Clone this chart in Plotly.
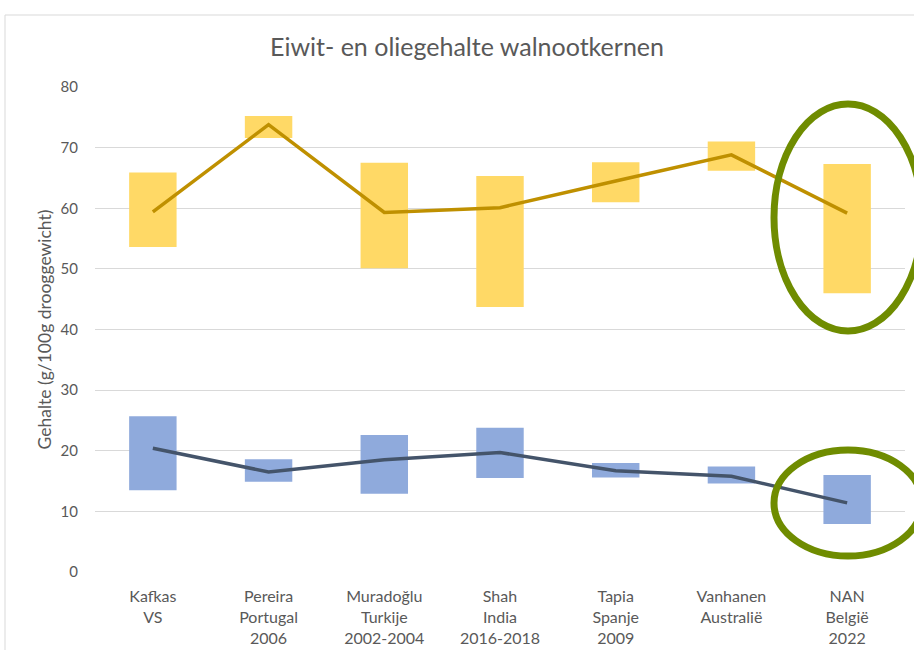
import plotly.graph_objects as go

categories = ["Kafkas<br>VS", "Pereira<br>Portugal<br>2006", "Muradoğlu<br>Turkije<br>2002-2004",
              "Shah<br>India<br>2016-2018", "Tapia<br>Spanje<br>2009", "Vanhanen<br>Australië",
              "NAN<br>België<br>2022"]

olie_min = [53.6, 71.6, 50.1, 43.7, 61.0, 66.2, 46.0]
olie_max = [65.9, 75.2, 67.5, 65.3, 67.6, 71.0, 67.3]
olie_gem = [59.4, 73.8, 59.3, 60.1, 64.5, 68.8, 59.2]

eiwit_min = [13.5, 14.9, 12.9, 15.5, 15.6, 14.6, 7.9]
eiwit_max = [25.7, 18.6, 22.6, 23.8, 18.0, 17.4, 16.0]
eiwit_gem = [20.4, 16.5, 18.5, 19.7, 16.7, 15.8, 11.4]

W, H = 914, 650
ML, MR, MT, MB = 95, 9, 87, 78
PW, PH = W - ML - MR, H - MT - MB
YMAX = 80

def px_x(p):
    return (p - ML) / PW

def px_y(p):
    return (H - MB - p) / PH * YMAX

fig = go.Figure()
fig.add_trace(go.Bar(x=categories, y=[b - a for a, b in zip(olie_min, olie_max)], base=olie_min,
                     width=0.41, marker=dict(color="#FFD966", line=dict(width=0)), name="Olie"))
fig.add_trace(go.Bar(x=categories, y=[b - a for a, b in zip(eiwit_min, eiwit_max)], base=eiwit_min,
                     width=0.41, marker=dict(color="#8FAADC", line=dict(width=0)), name="Eiwit"))
fig.add_trace(go.Scatter(x=categories, y=olie_gem, mode="lines",
                         line=dict(color="#BF9000", width=3.5), name="Olie gemiddeld"))
fig.add_trace(go.Scatter(x=categories, y=eiwit_gem, mode="lines",
                         line=dict(color="#44546A", width=3.5), name="Eiwit gemiddeld"))

shapes = [
    dict(type="rect", xref="paper", yref="paper", x0=px_x(5), x1=px_x(1000),
         y0=px_y(15) / YMAX, y1=px_y(700) / YMAX, line=dict(color="#D9D9D9", width=1), layer="below"),
    dict(type="circle", xref="paper", yref="y", x0=px_x(774), x1=px_x(922),
         y0=px_y(331), y1=px_y(104), line=dict(color="#6F8C00", width=7)),
    dict(type="circle", xref="paper", yref="y", x0=px_x(774), x1=px_x(922),
         y0=px_y(556), y1=px_y(450), line=dict(color="#6F8C00", width=7)),
]

fig.update_layout(
    width=W, height=H, margin=dict(l=ML, r=MR, t=MT, b=MB, autoexpand=False),
    paper_bgcolor="white", plot_bgcolor="white",
    barmode="overlay", showlegend=False,
    font=dict(family="Lato", color="#595959", size=15),
    title=dict(text="Eiwit- en oliegehalte walnootkernen", x=467 / W, xanchor="center",
               y=1 - 47 / H, yanchor="middle", font=dict(size=25, color="#595959")),
    shapes=shapes,
    xaxis=dict(showline=False, showgrid=False, zeroline=False, ticks="", ticklabelstandoff=13,
               automargin=False, tickfont=dict(size=16, color="#595959"), range=[-0.5, 6.5]),
    yaxis=dict(range=[0, YMAX], dtick=10, showgrid=True, gridcolor="#D9D9D9", gridwidth=1,
               zeroline=False, showline=False, ticks="", ticklabelstandoff=16, automargin=False,
               tickfont=dict(size=15, color="#595959"),
               title=dict(text="Gehalte (g/100g drooggewicht)", standoff=4,
                          font=dict(size=17.5, color="#595959"))),
)

fig.write_html("out.html", config={"displayModeBar": False},
               post_script="document.body.style.margin='0';document.body.style.padding='0';")
